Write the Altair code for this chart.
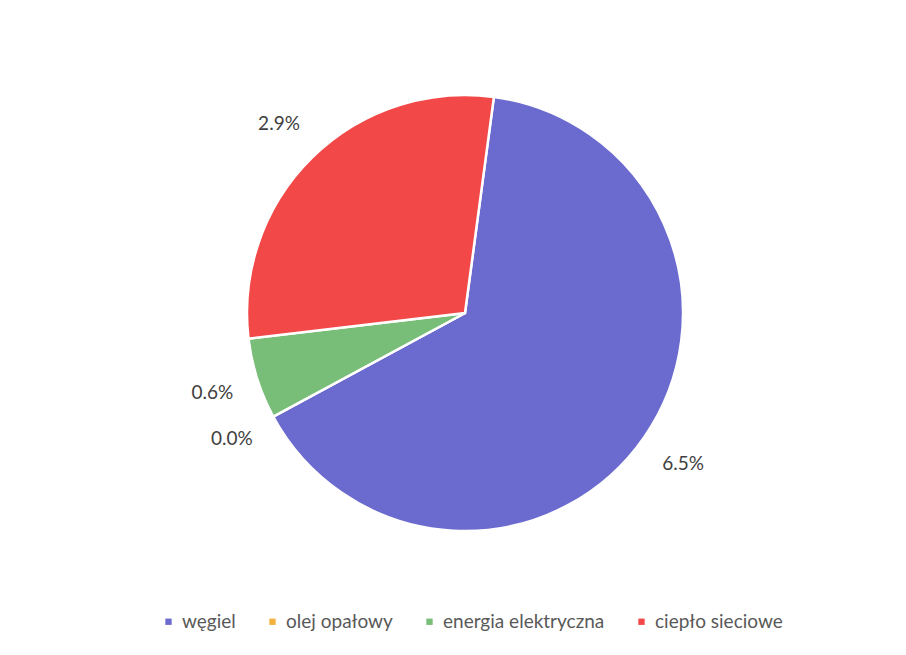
import altair as alt
import pandas as pd

categories = ["węgiel", "olej opałowy", "energia elektryczna", "ciepło sieciowe"]
values = [6.5, 0.0, 0.6, 2.9]
labels = ["6.5%", "0.0%", "0.6%", "2.9%"]
colors = ["#6b6bcf", "#f2b03c", "#78bd78", "#f24848"]

df = pd.DataFrame({"cat": categories, "val": values, "lab": labels, "idx": list(range(len(categories)))})

CX, CY, R = 457, 305, 218
start = 0.133
theta_scale = alt.Scale(range=[start, start + 6.283185307])

base = alt.Chart(df).encode(
    theta=alt.Theta("val:Q", stack=True, scale=theta_scale),
    order=alt.Order("idx:Q"),
)

pie = base.mark_arc(outerRadius=R, stroke="white", strokeWidth=2.5).encode(
    x=alt.value(CX),
    y=alt.value(CY),
    color=alt.Color(
        "cat:N",
        scale=alt.Scale(domain=categories, range=colors),
        sort=categories,
        legend=alt.Legend(
            title=None,
            orient="none",
            direction="horizontal",
            legendX=151,
            legendY=604,
            symbolType="square",
            symbolSize=40,
            symbolStrokeWidth=0,
            labelFont="Lato",
            labelFontSize=19,
            labelColor="#595959",
            labelLimit=400,
            columnPadding=27,
            labelOffset=4,
        ),
    ),
)

text = base.mark_text(radius=265, font="Lato", fontSize=19, color="#404040").encode(
    x=alt.value(CX),
    y=alt.value(CY),
    text="lab:N",
)

chart = (
    alt.layer(pie, text)
    .properties(width=890, height=639, autosize=alt.AutoSizeParams(type="none"), padding=0, background="white")
    .configure_view(stroke=None)
)

chart.save("out.html", embed_options={"renderer": "svg", "actions": False})
